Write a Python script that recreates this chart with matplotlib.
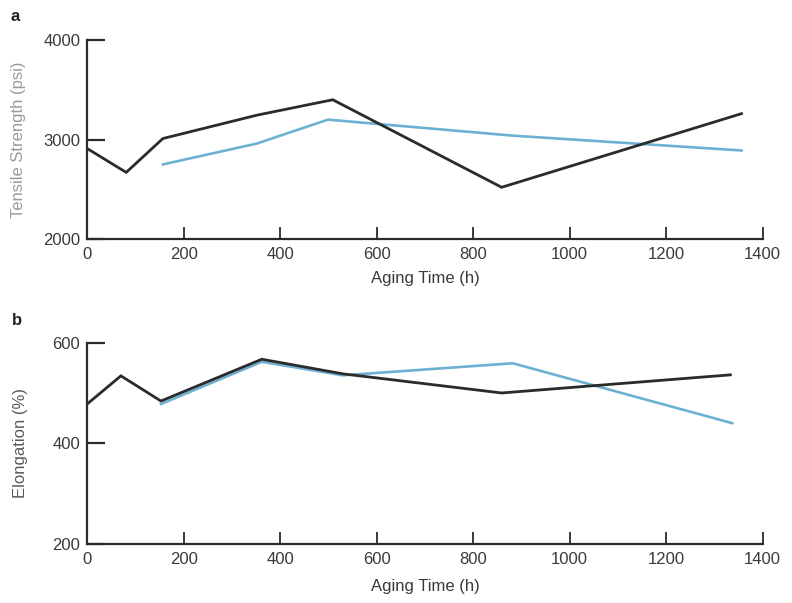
import matplotlib.pyplot as plt

# tensile strength (psi) vs aging time (h)
ts_black_t = [0, 81, 157, 352, 509, 859, 1356]
ts_black_v = [2910, 2670, 3010, 3245, 3400, 2520, 3260]
ts_blue_t = [157, 352, 499, 880, 1356]
ts_blue_v = [2750, 2960, 3200, 3040, 2890]

# elongation (%) vs aging time (h)
el_black_t = [0, 70, 153, 362, 530, 859, 1333]
el_black_v = [478, 534, 484, 567, 538, 500, 536]
el_blue_t = [153, 362, 530, 882, 1337]
el_blue_v = [478, 562, 535, 559, 440]

xticks = [0, 200, 400, 600, 800, 1000, 1200, 1400]

dark = '#2b2b2b'
blue = '#6db1d2'
txt = '#3a3a3a'

plt.rcParams['font.family'] = ['Liberation Sans', 'DejaVu Sans']

fig = plt.figure(figsize=(7.92, 6.03), dpi=100)
ax1 = fig.add_axes([0.110, 0.6036, 0.853, 0.330])
ax2 = fig.add_axes([0.110, 0.0978, 0.853, 0.334])


def style(ax, yticks, ylabel, ylab_color):
    for s in ['top', 'right']:
        ax.spines[s].set_visible(False)
    for s in ['left', 'bottom']:
        ax.spines[s].set_linewidth(1.6)
        ax.spines[s].set_color(dark)
    ax.set_xlim(0, 1400)
    ax.set_ylim(yticks[0], yticks[-1])
    ax.set_xticks(xticks)
    ax.set_yticks(yticks)
    ax.tick_params(axis='x', direction='in', length=9, width=1.3, color=dark,
                   labelsize=12, labelcolor=txt, pad=6)
    ax.tick_params(axis='y', direction='in', length=13, width=1.6, color=dark,
                   labelsize=12, labelcolor=txt, pad=5)
    ax.set_xlabel('Aging Time (h)', fontsize=12, color=txt)
    ax.set_ylabel(ylabel, fontsize=12, color=ylab_color)
    ax.patch.set_visible(False)


ax1.plot(ts_blue_t, ts_blue_v, color=blue, lw=1.9, solid_joinstyle='miter')
ax1.plot(ts_black_t, ts_black_v, color=dark, lw=2.0, solid_joinstyle='miter')
style(ax1, [2000, 3000, 4000], 'Tensile Strength (psi)', '#9a9a9a')
ax1.xaxis.set_label_coords(0.5, -0.16)
ax1.yaxis.set_label_coords(-0.09, 0.5)

ax2.plot(el_blue_t, el_blue_v, color=blue, lw=1.9, solid_joinstyle='miter')
ax2.plot(el_black_t, el_black_v, color=dark, lw=2.0, solid_joinstyle='miter')
style(ax2, [200, 400, 600], 'Elongation (%)', '#5a5a5a')
ax2.xaxis.set_label_coords(0.5, -0.175)
ax2.yaxis.set_label_coords(-0.088, 0.5)

fig.text(0.019, 0.972, 'a', fontsize=12, fontweight='bold', color='#222222',
         ha='center', va='center')
fig.text(0.021, 0.469, 'b', fontsize=12, fontweight='bold', color='#222222',
         ha='center', va='center')

fig.savefig('out.png', dpi=100, facecolor='white')
